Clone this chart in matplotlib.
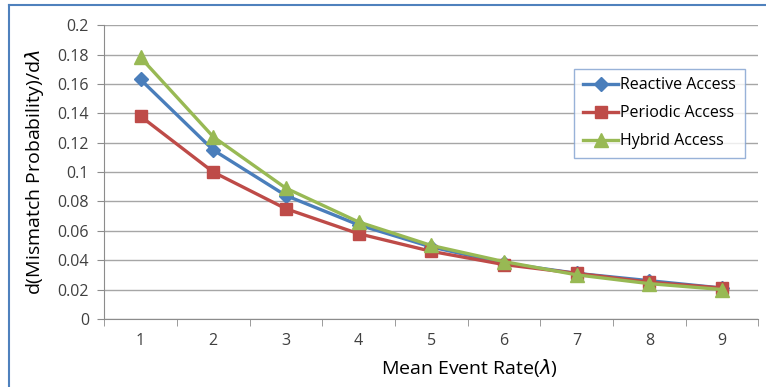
import matplotlib.pyplot as plt
from matplotlib.lines import Line2D

# data
rates = [1, 2, 3, 4, 5, 6, 7, 8, 9]
reactive = [0.163, 0.115, 0.084, 0.064, 0.049, 0.038, 0.031, 0.026, 0.021]
periodic = [0.138, 0.100, 0.075, 0.058, 0.046, 0.037, 0.031, 0.025, 0.021]
hybrid = [0.178, 0.124, 0.089, 0.066, 0.050, 0.039, 0.030, 0.024, 0.020]
y_ticks = [0, 0.02, 0.04, 0.06, 0.08, 0.1, 0.12, 0.14, 0.16, 0.18, 0.2]
y_labels = ["0", "0.02", "0.04", "0.06", "0.08", "0.1", "0.12", "0.14", "0.16", "0.18", "0.2"]

plt.rcParams['font.family'] = ['Open Sans', 'DejaVu Sans']

fig = plt.figure(figsize=(7.66, 3.87), dpi=100)
ax = fig.add_axes([0.136, 0.176, 0.854, 0.759])

grey = "#8c8c8c"
ax.plot(rates, reactive, color="#4A7EBB", lw=2.4, marker="D", ms=7,
        label="Reactive Access")
ax.plot(rates, periodic, color="#BE4B48", lw=2.4, marker="s", ms=9,
        label="Periodic Access")
ax.plot(rates, hybrid, color="#98B954", lw=2.4, marker="^", ms=10,
        label="Hybrid Access")

ax.set_xlim(0.5, 9.5)
ax.set_ylim(0, 0.2)
ax.set_yticks(y_ticks)
ax.set_yticklabels(y_labels)
ax.set_xticks(rates)
ax.set_xticks([r + 0.5 for r in [0] + rates], minor=True)
ax.tick_params(axis='x', which='major', length=0, pad=10, labelsize=11.5, colors="#404040")
ax.tick_params(axis='x', which='minor', length=5, color=grey, direction='out')
ax.tick_params(axis='y', length=5, color=grey, pad=6, labelsize=11.5, labelcolor="#404040")
ax.grid(axis='y', color="#a6a6a6", lw=1)
ax.set_axisbelow(True)

for s in ["top", "right"]:
    ax.spines[s].set_visible(False)
ax.spines["left"].set_color(grey)
ax.spines["bottom"].set_color(grey)

ax.set_xlabel("Mean Event Rate($\\lambda$)", fontsize=14)
ax.xaxis.set_label_coords(0.558, -0.13)
ax.set_ylabel("d(Mismatch Probability)/d$\\lambda$", fontsize=14, labelpad=8)

leg = ax.legend(loc="upper right", bbox_to_anchor=(0.979, 0.852), fontsize=11.5,
                frameon=True, fancybox=False, edgecolor="#7f9fcf",
                handlelength=2.2, handletextpad=0.1, borderpad=0.55,
                labelspacing=0.75, borderaxespad=0)
leg.get_frame().set_linewidth(1)

# blue chart-area border on the top and left
fig.add_artist(Line2D([9 / 766, 9 / 766], [0, 1 - 5 / 387], color="#4F81BD", lw=1.5))
fig.add_artist(Line2D([9 / 766, 1], [1 - 5 / 387, 1 - 5 / 387], color="#4F81BD", lw=1.5))

plt.savefig("out.png", dpi=100)
plt.close()
